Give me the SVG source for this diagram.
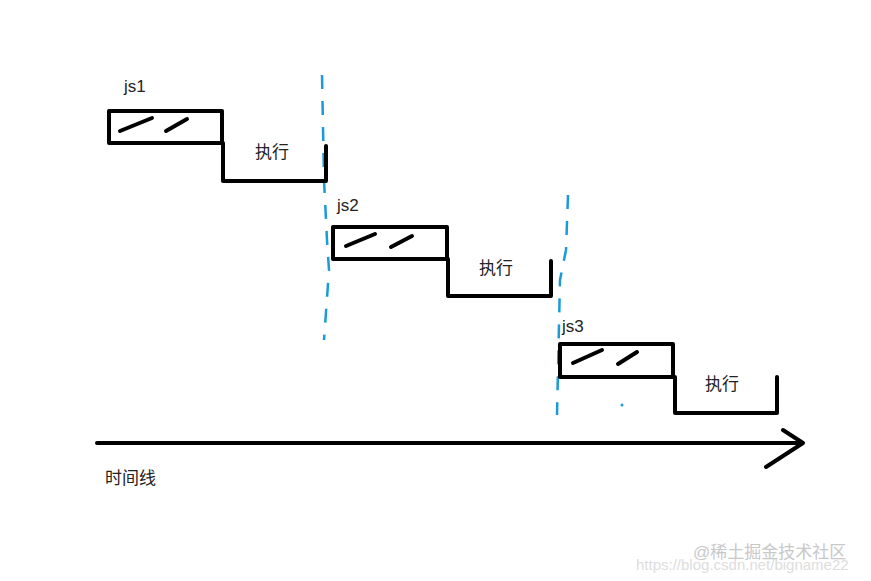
<svg xmlns="http://www.w3.org/2000/svg" width="871" height="581" viewBox="0 0 871 581">
<style>
.k{fill:none;stroke:#000;stroke-width:4;stroke-linecap:round;stroke-linejoin:round}
.b{fill:none;stroke:#1a9ad6;stroke-width:2.5;stroke-dasharray:14 12}
.t{font-family:"Liberation Sans","Noto Sans CJK SC",sans-serif;font-size:17px;fill:#222}
.w{font-family:"Liberation Sans","Noto Sans CJK SC",sans-serif;font-size:15px;fill:#ddd}
</style>
<rect width="871" height="581" fill="#fff"/>
<g id="guides">
<path class="b" d="M322,75 L324,180 L327,240 L329,270 L324,340"/>
<path class="b" d="M568,195 L566,250 L560,280 L557,415"/>
<circle cx="622" cy="405" r="1.5" fill="#1a9ad6"/>
</g>
<g id="js1">
<rect class="k" x="109" y="111" width="113" height="32"/>
<path class="k" d="M120,131 L152,118 M166,131 L187,119"/>
<text class="t" x="124" y="92">js1</text>
<path class="k" d="M223,143 V181 H326 V146"/>
<text class="t" x="255" y="158">执行</text>
</g>
<g id="js2">
<rect class="k" x="333" y="227" width="114" height="32"/>
<path class="k" d="M346,246 L375,234 M391,247 L412,236"/>
<text class="t" x="337" y="211">js2</text>
<path class="k" d="M448,259 V296 H551 V261"/>
<text class="t" x="479" y="274">执行</text>
</g>
<g id="js3">
<rect class="k" x="560" y="344" width="113" height="33"/>
<path class="k" d="M573,363 L602,350 M618,364 L637,352"/>
<text class="t" x="562" y="332">js3</text>
<path class="k" d="M675,377 V413 H777 V377"/>
<text class="t" x="705" y="390">执行</text>
</g>
<g id="axis">
<path class="k" d="M97,443 H803 M783,430 L803,443 L766,467"/>
<text class="t" x="105" y="484">时间线</text>
</g>
<text class="w" x="636" y="570">https://blog.csdn.net/bigname22</text>
<text class="w" x="693" y="558" style="fill:#c8c8c8;font-size:17px">@稀土掘金技术社区</text>
</svg>
